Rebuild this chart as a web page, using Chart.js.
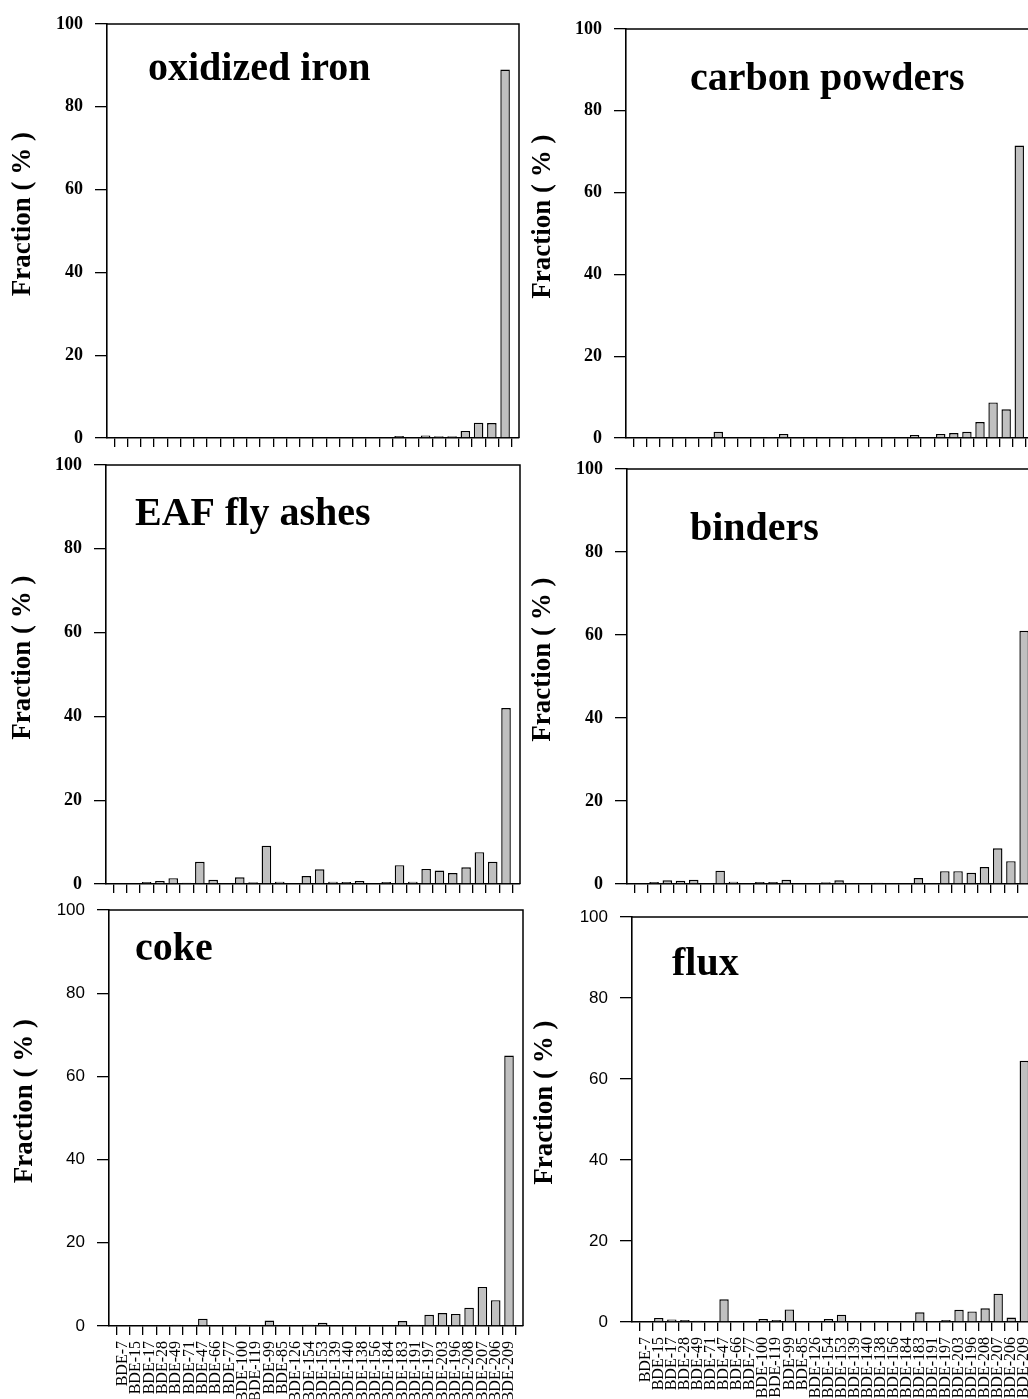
<!DOCTYPE html>
<html>
<head>
<meta charset="utf-8">
<script src="https://cdn.jsdelivr.net/npm/chart.js@4.4.1/dist/chart.umd.min.js"></script>
<style>
  html, body { margin: 0; padding: 0; background: #fff; overflow: hidden; }
  body { width: 1028px; height: 1399px; position: relative; }
  canvas { position: absolute; left: 0; top: 0; }
</style>
</head>
<body>
<canvas id="c1" width="1060" height="1399"></canvas>
<canvas id="c2" width="1060" height="1399"></canvas>
<canvas id="c3" width="1060" height="1399"></canvas>
<canvas id="c4" width="1060" height="1399"></canvas>
<canvas id="c5" width="1060" height="1399"></canvas>
<canvas id="c6" width="1060" height="1399"></canvas>
<script>
// congeners on the x axis
const labels = ['BDE-7', 'BDE-15', 'BDE-17', 'BDE-28', 'BDE-49', 'BDE-71', 'BDE-47', 'BDE-66',
  'BDE-77', 'BDE-100', 'BDE-119', 'BDE-99', 'BDE-85', 'BDE-126', 'BDE-154', 'BDE-153',
  'BDE-139', 'BDE-140', 'BDE-138', 'BDE-156', 'BDE-184', 'BDE-183', 'BDE-191', 'BDE-197',
  'BDE-203', 'BDE-196', 'BDE-208', 'BDE-207', 'BDE-206', 'BDE-209'];

// fraction (%) per material
const oxidizedIron = [0, 0, 0, 0, 0, 0, 0, 0, 0, 0, 0, 0, 0, 0, 0, 0.15, 0, 0, 0, 0, 0, 0.5, 0, 0.6, 0.4, 0.4, 1.7, 3.7, 3.6, 89];
const carbonPowders = [0, 0, 0, 0, 0, 0, 1.5, 0, 0, 0.25, 0.1, 1.0, 0, 0, 0, 0, 0.1, 0, 0, 0, 0, 0.75, 0, 1.0, 1.2, 1.5, 3.9, 8.7, 7.0, 71.5];
const eafFlyAshes = [0, 0, 0.5, 0.7, 1.4, 0.3, 5.3, 1.0, 0.25, 1.6, 0.4, 9.1, 0.55, 0, 1.9, 3.5, 0.55, 0.5, 0.7, 0, 0.5, 4.5, 0.55, 3.6, 3.2, 2.6, 4.0, 7.6, 5.3, 42];
const binders = [0, 0.5, 0.9, 0.8, 1.0, 0, 3.2, 0.55, 0, 0.5, 0.5, 1.0, 0, 0, 0.4, 0.9, 0, 0, 0.3, 0, 0, 1.45, 0.25, 3.1, 3.1, 2.7, 4.1, 8.6, 5.5, 61];
const coke = [0, 0, 0, 0, 0.3, 0, 1.75, 0, 0, 0.3, 0, 1.3, 0, 0, 0.3, 0.8, 0, 0, 0, 0, 0, 1.2, 0.3, 2.7, 3.1, 2.9, 4.4, 9.4, 6.2, 65];
const flux = [0, 1.0, 0.6, 0.5, 0.3, 0, 5.6, 0, 0, 0.75, 0.5, 3.1, 0, 0, 0.75, 1.8, 0, 0, 0, 0, 0, 2.4, 0.25, 0.5, 3.0, 2.6, 3.4, 7.0, 1.1, 64.5];

const yTicks = [0, 20, 40, 60, 80, 100];

const PAGE_W = 1060;
const PAGE_H = 1399;
const SERIF = '"Liberation Serif", "Times New Roman", serif';
const SANS = '"Liberation Sans", Arial, sans-serif';

const panels = [
  {id: 'c1', name: 'oxidized iron', data: oxidizedIron, axisX: 107, top: 24, right: 519, bottom: 438, titleX: 23, nameX: 148, nameY: 70, showLabels: false, sans: false},
  {id: 'c2', name: 'carbon powders', data: carbonPowders, axisX: 626, top: 29, right: 1033, bottom: 438, titleX: 543, nameX: 690, nameY: 80, showLabels: false, sans: false},
  {id: 'c3', name: 'EAF fly ashes', data: eafFlyAshes, axisX: 106, top: 465, right: 520, bottom: 884, titleX: 23, nameX: 135, nameY: 515, showLabels: false, sans: false},
  {id: 'c4', name: 'binders', data: binders, axisX: 627, top: 469, right: 1038, bottom: 884, titleX: 543, nameX: 690, nameY: 530, showLabels: false, sans: false},
  {id: 'c5', name: 'coke', data: coke, axisX: 109, top: 910, right: 523, bottom: 1326, titleX: 25, nameX: 135, nameY: 950, showLabels: true, sans: true},
  {id: 'c6', name: 'flux', data: flux, axisX: 632, top: 917, right: 1038, bottom: 1322, titleX: 545, nameX: 672, nameY: 965, showLabels: true, sans: true}
];

// top and right edges of the plot box
const framePlugin = {
  id: 'frame',
  afterDatasetsDraw(chart) {
    const {ctx, chartArea: a} = chart;
    ctx.save();
    ctx.strokeStyle = '#000';
    ctx.lineWidth = 1.5;
    ctx.beginPath();
    ctx.moveTo(a.left, a.top);
    ctx.lineTo(a.right, a.top);
    ctx.lineTo(a.right, a.bottom);
    ctx.stroke();
    ctx.restore();
  }
};

// material name inside the plot
const namePlugin = {
  id: 'panelName',
  afterDraw(chart, args, opts) {
    const ctx = chart.ctx;
    ctx.save();
    ctx.font = 'bold 40px ' + SERIF;
    ctx.fillStyle = '#000';
    ctx.textBaseline = 'middle';
    ctx.fillText(opts.text, opts.x, opts.y);
    ctx.restore();
  }
};

function makeChart(p) {
  const titleSize = 27;
  const yW = p.axisX - (p.titleX - titleSize * 1.2 / 2);
  const xH = p.showLabels ? 80 : 14;
  const tickFont = p.sans
    ? {family: SANS, size: 17}
    : {family: SERIF, size: 18, weight: 'bold'};

  new Chart(document.getElementById(p.id), {
    type: 'bar',
    data: {
      datasets: [{
        data: p.data.map((v, i) => ({x: i, y: v})),
        backgroundColor: '#c0c0c0',
        borderColor: '#000',
        borderWidth: 1.4,
        barPercentage: 0.72,
        categoryPercentage: 1
      }]
    },
    options: {
      responsive: false,
      animation: false,
      events: [],
      layout: {
        padding: {
          left: p.axisX - yW,
          top: p.top,
          right: PAGE_W - p.right,
          bottom: PAGE_H - p.bottom - xH
        }
      },
      plugins: {
        legend: {display: false},
        tooltip: {enabled: false},
        panelName: {text: p.name, x: p.nameX, y: p.nameY}
      },
      scales: {
        x: {
          type: 'linear',
          min: -1.05,
          max: 30.05,
          offset: false,
          afterBuildTicks: s => { s.ticks = labels.map((_, i) => ({value: i})); },
          afterFit: s => { s.height = xH; },
          grid: {drawOnChartArea: false, tickLength: 9, color: '#000', lineWidth: 1.3},
          border: {display: true, color: '#000', width: 1.6},
          ticks: {
            display: p.showLabels,
            autoSkip: false,
            minRotation: 90,
            maxRotation: 90,
            padding: 6,
            color: '#000',
            font: {family: SERIF, size: 16},
            callback: v => labels[v]
          }
        },
        y: {
          min: 0,
          max: 100,
          afterBuildTicks: s => { s.ticks = yTicks.map(v => ({value: v})); },
          afterFit: s => { s.width = yW; },
          grid: {drawOnChartArea: false, tickLength: 12, color: '#000', lineWidth: 1.3},
          border: {display: true, color: '#000', width: 1.6},
          ticks: {padding: 12, color: '#000', font: tickFont},
          title: {
            display: true,
            // leading spaces lift the label a little above the axis centre, as in the original
            text: '     Fraction ( % )',
            color: '#000',
            padding: 0,
            font: {family: SERIF, size: titleSize, weight: 'bold'}
          }
        }
      }
    },
    plugins: [framePlugin, namePlugin]
  });
}

panels.forEach(makeChart);
</script>
</body>
</html>
